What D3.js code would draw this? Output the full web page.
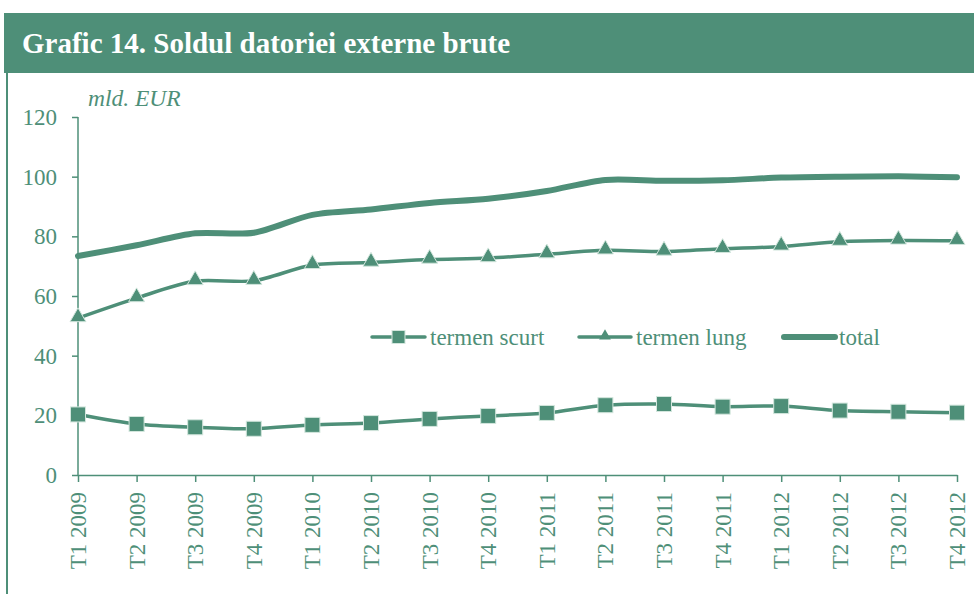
<!DOCTYPE html>
<html><head><meta charset="utf-8">
<script src="https://cdn.jsdelivr.net/npm/d3@7"></script>
<style>body{margin:0;background:#fff}svg{display:block}</style>
</head><body>
<script>
const categories = ["T1 2009","T2 2009","T3 2009","T4 2009","T1 2010","T2 2010","T3 2010","T4 2010","T1 2011","T2 2011","T3 2011","T4 2011","T1 2012","T2 2012","T3 2012","T4 2012"];
const termenScurt = [20.3,17.1,16.0,15.5,16.8,17.4,18.8,19.8,20.8,23.4,23.8,22.9,23.1,21.6,21.2,20.9];
const termenLung = [52.6,59.3,65.0,65.1,70.4,71.2,72.2,72.7,74.0,75.3,74.9,75.8,76.6,78.2,78.6,78.5];
const total = [73.4,77.0,81.0,81.2,87.2,89.0,91.2,92.6,95.2,98.9,98.6,98.8,99.7,100.0,100.1,99.8];
const yTicks = [0,20,40,60,80,100,120];
const title = "Grafic 14. Soldul datoriei externe brute";
const unitLabel = "mld. EUR";
const legendLabels = ["termen scurt","termen lung","total"];

const W = 974, H = 594, C = "#4e8f78", MS = "#d3e6dd";
const svg = d3.select("body").append("svg").attr("width", W).attr("height", H);
const font = "'Liberation Serif','Times New Roman',serif";

// header
svg.append("rect").attr("x", 4).attr("y", 13).attr("width", W - 4).attr("height", 60).attr("fill", C);
svg.append("text").attr("x", 22).attr("y", 53).attr("fill", "#fff").attr("font-family", font)
  .attr("font-weight", "bold").attr("font-size", 29).text(title);
svg.append("line").attr("x1", 7).attr("x2", 7).attr("y1", 73).attr("y2", H).attr("stroke", C).attr("stroke-width", 2);

const x = d3.scalePoint().domain(categories).range([78, 957]);
const y = d3.scaleLinear().domain([0, 120]).range([475, 117]);

// axes
const yAxis = svg.append("g").attr("transform", "translate(78,0)")
  .call(d3.axisLeft(y).tickValues(yTicks).tickSize(6).tickPadding(15).tickFormat(d3.format("d")));
yAxis.selectAll("text").attr("font-family", font).attr("font-size", 23).attr("fill", C);
yAxis.selectAll("line,path").attr("stroke", C).attr("stroke-width", 1.5);
yAxis.select("path").attr("d", "M0," + y(120) + "V" + y(0));

const xAxis = svg.append("g").attr("transform", "translate(0,475)")
  .call(d3.axisBottom(x).tickSize(7).tickSizeOuter(0));
xAxis.selectAll("line,path").attr("stroke", C).attr("stroke-width", 1.5);
xAxis.selectAll("text").attr("font-family", font).attr("font-size", 23).attr("fill", C)
  .attr("transform", "rotate(-90)").attr("text-anchor", "end").attr("x", -17).attr("y", 0).attr("dy", "0.33em");

svg.append("text").attr("x", 88).attr("y", 106).attr("font-family", font).attr("font-style", "italic")
  .attr("font-size", 23.5).attr("fill", C).text(unitLabel);

const curve = d3.curveCardinal.tension(0.15);
const line = d3.line().x((d, i) => x(categories[i])).y(d => y(d)).curve(curve);

svg.append("path").datum(total).attr("d", line).attr("fill", "none").attr("stroke", C)
  .attr("stroke-width", 6).attr("stroke-linecap", "round");
svg.append("path").datum(termenLung).attr("d", line).attr("fill", "none").attr("stroke", C).attr("stroke-width", 3.5);
svg.append("path").datum(termenScurt).attr("d", line).attr("fill", "none").attr("stroke", C).attr("stroke-width", 3.5);

const tri = d3.symbol().type(d3.symbolTriangle).size(110);
svg.append("g").selectAll("path").data(termenLung).join("path")
  .attr("transform", (d, i) => `translate(${x(categories[i])},${y(d) - 1})`)
  .attr("d", tri).attr("fill", C).attr("stroke", MS).attr("stroke-width", 1);

svg.append("g").selectAll("rect").data(termenScurt).join("rect")
  .attr("x", (d, i) => x(categories[i]) - 7.5).attr("y", d => y(d) - 7.5)
  .attr("width", 15).attr("height", 15).attr("fill", C).attr("stroke", MS).attr("stroke-width", 1);

// legend
const ly = 337;
const lg = svg.append("g");
lg.append("line").attr("x1", 372).attr("x2", 425).attr("y1", ly).attr("y2", ly).attr("stroke", C).attr("stroke-width", 3.5).attr("stroke-linecap", "round");
lg.append("rect").attr("x", 392).attr("y", ly - 6.5).attr("width", 13).attr("height", 13).attr("fill", C).attr("stroke", MS).attr("stroke-width", 1);
lg.append("text").attr("x", 430).attr("y", ly + 8).attr("font-family", font).attr("font-size", 23).attr("fill", C).text(legendLabels[0]);
lg.append("line").attr("x1", 579).attr("x2", 631).attr("y1", ly).attr("y2", ly).attr("stroke", C).attr("stroke-width", 3.5).attr("stroke-linecap", "round");
lg.append("path").attr("transform", `translate(605,${ly - 1})`).attr("d", d3.symbol().type(d3.symbolTriangle).size(60)).attr("fill", C);
lg.append("text").attr("x", 636).attr("y", ly + 8).attr("font-family", font).attr("font-size", 23).attr("fill", C).text(legendLabels[1]);
lg.append("line").attr("x1", 784).attr("x2", 835).attr("y1", ly).attr("y2", ly).attr("stroke", C).attr("stroke-width", 6).attr("stroke-linecap", "round");
lg.append("text").attr("x", 839).attr("y", ly + 8).attr("font-family", font).attr("font-size", 23).attr("fill", C).text(legendLabels[2]);
</script>
</body></html>
